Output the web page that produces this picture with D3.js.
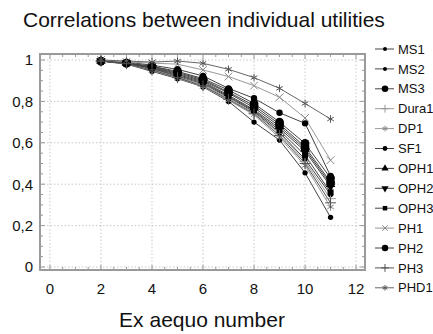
<!DOCTYPE html>
<html>
<head>
<meta charset="utf-8">
<script src="https://cdn.jsdelivr.net/npm/d3@7"></script>
<style>
  body { margin: 0; background: #fff; }
  text { font-family: "Liberation Sans", Arial, sans-serif; fill: #111; }
</style>
</head>
<body>
<div id="chart"></div>
<script>
// data
const exAequo = [2, 3, 4, 5, 6, 7, 8, 9, 10, 11];

const seriesNames = ["MS1", "MS2", "MS3", "Dura1", "DP1", "SF1", "OPH1", "OPH2", "OPH3", "PH1", "PH2", "PH3", "PHD1"];

const MS1   = [0.995, 0.980, 0.945, 0.910, 0.870, 0.800, 0.700, 0.613, 0.455, 0.240];
const MS2   = [0.995, 0.984, 0.958, 0.920, 0.885, 0.820, 0.750, 0.650, 0.520, 0.350];
const MS3   = [0.995, 0.985, 0.970, 0.945, 0.910, 0.855, 0.790, 0.700, 0.597, 0.430];
const Dura1 = [0.995, 0.983, 0.955, 0.918, 0.880, 0.815, 0.745, 0.645, 0.510, 0.330];
const DP1   = [0.995, 0.982, 0.950, 0.912, 0.872, 0.805, 0.735, 0.625, 0.490, 0.290];
const SF1   = [0.995, 0.990, 0.975, 0.955, 0.923, 0.863, 0.815, 0.745, 0.694, 0.440];
const OPH1  = [0.995, 0.985, 0.965, 0.935, 0.900, 0.840, 0.770, 0.680, 0.570, 0.400];
const OPH2  = [0.995, 0.985, 0.963, 0.930, 0.895, 0.830, 0.760, 0.670, 0.560, 0.390];
const OPH3  = [0.995, 0.984, 0.960, 0.925, 0.890, 0.825, 0.755, 0.660, 0.540, 0.360];
const PH1   = [1.000, 0.990, 0.985, 0.980, 0.952, 0.920, 0.876, 0.820, 0.720, 0.516];
const PH2   = [0.995, 0.985, 0.968, 0.940, 0.905, 0.845, 0.780, 0.690, 0.580, 0.410];
const PH3   = [0.995, 0.982, 0.952, 0.915, 0.875, 0.810, 0.740, 0.635, 0.500, 0.310];
const PHD1  = [1.000, 0.995, 0.990, 0.995, 0.984, 0.955, 0.915, 0.863, 0.790, 0.715];

const seriesValues = [MS1, MS2, MS3, Dura1, DP1, SF1, OPH1, OPH2, OPH3, PH1, PH2, PH3, PHD1];

const xTicks = [0, 2, 4, 6, 8, 10, 12];
const yTicks = [0, 0.2, 0.4, 0.6, 0.8, 1];

// marker styles per series
const markerStyle = {
  MS1:   { type: d3.symbolCircle,   size: 22, fill: "#000", stroke: "none", line: "#444" },
  MS2:   { type: d3.symbolCircle,   size: 22, fill: "#000", stroke: "none", line: "#444" },
  MS3:   { type: d3.symbolCircle,   size: 60, fill: "#000", stroke: "none", line: "#444" },
  Dura1: { type: d3.symbolPlus,     size: 40, fill: "none", stroke: "#999", line: "#999" },
  DP1:   { type: d3.symbolAsterisk, size: 40, fill: "none", stroke: "#888", line: "#999" },
  SF1:   { type: d3.symbolCircle,   size: 32, fill: "#000", stroke: "none", line: "#444" },
  OPH1:  { type: d3.symbolTriangle, size: 40, fill: "#000", stroke: "none", line: "#444" },
  OPH2:  { type: d3.symbolTriangle, size: 40, fill: "#000", stroke: "none", line: "#444", rotate: 180 },
  OPH3:  { type: d3.symbolSquare,   size: 36, fill: "#000", stroke: "none", line: "#444" },
  PH1:   { type: d3.symbolTimes,    size: 40, fill: "none", stroke: "#888", line: "#999" },
  PH2:   { type: d3.symbolCircle,   size: 60, fill: "#000", stroke: "none", line: "#444" },
  PH3:   { type: d3.symbolPlus,     size: 40, fill: "none", stroke: "#555", line: "#555" },
  PHD1:  { type: d3.symbolAsterisk, size: 40, fill: "none", stroke: "#555", line: "#666" }
};

// chart dimensions
const plot = { left: 40, right: 365, top: 54, bottom: 270 };

const svg = d3.select("#chart")
  .append("svg")
  .attr("width", 433)
  .attr("height", 334);

// title
svg.append("text")
  .attr("x", 23)
  .attr("y", 27)
  .attr("font-size", "21px")
  .text("Correlations between individual utilities");

// scales
const xScale = d3.scaleLinear()
  .domain([-0.39, 12.35])
  .range([plot.left, plot.right]);

const yScale = d3.scaleLinear()
  .domain([-0.0145, 1.029])
  .range([plot.bottom, plot.top]);

// grid
svg.append("g")
  .selectAll("line")
  .data(xTicks)
  .join("line")
  .attr("x1", d => xScale(d))
  .attr("x2", d => xScale(d))
  .attr("y1", plot.top)
  .attr("y2", plot.bottom)
  .attr("stroke", "#c8c8c8")
  .attr("stroke-dasharray", "1.5,2");

svg.append("g")
  .selectAll("line")
  .data(yTicks)
  .join("line")
  .attr("x1", plot.left)
  .attr("x2", plot.right)
  .attr("y1", d => yScale(d))
  .attr("y2", d => yScale(d))
  .attr("stroke", "#c8c8c8")
  .attr("stroke-dasharray", "1.5,2");

// inner ticks on all four sides
const xMinor = d3.range(0, 12.01, 0.5);
const yMinor = d3.range(0, 1.001, 0.05);

const tickG = svg.append("g").attr("stroke", "#999").attr("stroke-width", 1);
xMinor.forEach(v => {
  const len = Number.isInteger(v / 2) ? 5 : 3;
  tickG.append("line").attr("x1", xScale(v)).attr("x2", xScale(v))
    .attr("y1", plot.bottom).attr("y2", plot.bottom - len);
  tickG.append("line").attr("x1", xScale(v)).attr("x2", xScale(v))
    .attr("y1", plot.top).attr("y2", plot.top + len);
});
yMinor.forEach(v => {
  const len = Math.abs(v * 5 - Math.round(v * 5)) < 1e-6 ? 5 : 3;
  tickG.append("line").attr("y1", yScale(v)).attr("y2", yScale(v))
    .attr("x1", plot.left).attr("x2", plot.left + len);
  tickG.append("line").attr("y1", yScale(v)).attr("y2", yScale(v))
    .attr("x1", plot.right).attr("x2", plot.right - len);
});

// frame
svg.append("rect")
  .attr("x", plot.left)
  .attr("y", plot.top)
  .attr("width", plot.right - plot.left)
  .attr("height", plot.bottom - plot.top)
  .attr("fill", "none")
  .attr("stroke", "#9a9a9a")
  .attr("stroke-width", 2);

// tick labels
const yFormat = d => d === 0 || d === 1 ? String(d) : d3.format(".1f")(d).replace(".", ",");

svg.append("g")
  .selectAll("text")
  .data(yTicks)
  .join("text")
  .attr("x", 33)
  .attr("y", d => yScale(d))
  .attr("dy", "0.36em")
  .attr("text-anchor", "end")
  .attr("font-size", "15px")
  .text(yFormat);

svg.append("g")
  .selectAll("text")
  .data(xTicks)
  .join("text")
  .attr("x", d => xScale(d))
  .attr("y", 294)
  .attr("text-anchor", "middle")
  .attr("font-size", "15px")
  .text(d => d);

// axis title
svg.append("text")
  .attr("x", 202)
  .attr("y", 327)
  .attr("text-anchor", "middle")
  .attr("font-size", "21px")
  .text("Ex aequo number");

// lines
const lineGenerator = d3.line()
  .x((d, i) => xScale(exAequo[i]))
  .y(d => yScale(d));

seriesNames.forEach((name, k) => {
  svg.append("path")
    .datum(seriesValues[k])
    .attr("d", lineGenerator)
    .attr("fill", "none")
    .attr("stroke", markerStyle[name].line)
    .attr("stroke-width", 1);
});

// markers
function drawMarker(g, name, x, y, scale) {
  const s = markerStyle[name];
  g.append("path")
    .attr("d", d3.symbol().type(s.type).size(s.size * scale * scale)())
    .attr("transform", `translate(${x},${y})` + (s.rotate ? ` rotate(${s.rotate})` : ""))
    .attr("fill", s.fill)
    .attr("stroke", s.stroke)
    .attr("stroke-width", 1);
}

const markerG = svg.append("g");
seriesNames.forEach((name, k) => {
  seriesValues[k].forEach((v, i) => {
    drawMarker(markerG, name, xScale(exAequo[i]), yScale(v), 1);
  });
});

// legend
const legend = svg.append("g");
seriesNames.forEach((name, k) => {
  const y = 49 + k * 19.9;
  legend.append("line")
    .attr("x1", 375).attr("x2", 394)
    .attr("y1", y).attr("y2", y)
    .attr("stroke", markerStyle[name].line);
  drawMarker(legend, name, 385, y, 0.75);
  legend.append("text")
    .attr("x", 398)
    .attr("y", y)
    .attr("dy", "0.36em")
    .attr("font-size", "13px")
    .text(name);
});
</script>
</body>
</html>
